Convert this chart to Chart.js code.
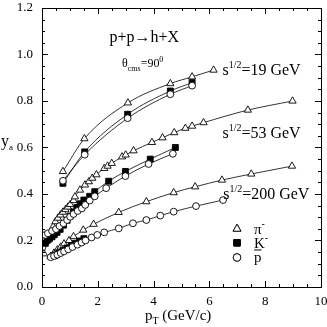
<!DOCTYPE html>
<html>
<head>
<meta charset="utf-8">
<script src="https://cdn.jsdelivr.net/npm/chart.js@4.4.1/dist/chart.umd.min.js"></script>
<style>
html, body { margin: 0; padding: 0; background: #fff; }
</style>
</head>
<body>
<canvas id="myChart" width="327" height="327"></canvas>
<script>
// sqrt(s) = 19 GeV
const pi19X = [0.75, 1.52, 3.08, 4.60, 5.38, 6.15];
const pi19Y = [0.497, 0.638, 0.792, 0.875, 0.904, 0.933];
const k19X = [0.75, 1.53, 3.07, 4.60, 5.38];
const k19Y = [0.446, 0.581, 0.743, 0.843, 0.879];
const pbar19X = [0.75, 1.53, 3.07, 4.60, 5.38];
const pbar19Y = [0.457, 0.569, 0.726, 0.829, 0.866];

// sqrt(s) = 53 GeV
const pi53X = [0.07, 0.20, 0.30, 0.40, 0.48, 0.57, 0.66, 0.75, 0.84, 0.93, 1.01, 1.13, 1.18, 1.36, 1.54, 1.68, 1.80, 1.95, 2.23, 2.35, 2.50, 2.87, 3.00, 3.28, 3.94, 4.32, 4.74, 5.14, 5.38, 5.79, 7.38, 8.98];
const pi53Y = [0.143, 0.200, 0.232, 0.260, 0.281, 0.296, 0.310, 0.322, 0.333, 0.344, 0.355, 0.372, 0.388, 0.417, 0.439, 0.453, 0.468, 0.483, 0.510, 0.520, 0.532, 0.560, 0.568, 0.586, 0.622, 0.642, 0.664, 0.683, 0.692, 0.707, 0.761, 0.800];
const k53X = [0.12, 0.18, 0.27, 0.36, 0.44, 0.54, 0.65, 0.77, 0.90, 1.01, 1.13, 1.25, 1.37, 1.50, 1.71, 1.89, 2.39, 2.99, 3.88, 4.78];
const k53Y = [0.188, 0.200, 0.209, 0.216, 0.225, 0.235, 0.248, 0.266, 0.287, 0.305, 0.323, 0.342, 0.358, 0.374, 0.390, 0.410, 0.455, 0.497, 0.550, 0.600];
const pbar53X = [0.12, 0.21, 0.36, 0.50, 0.63, 0.77, 0.90, 1.01, 1.13, 1.28, 1.43, 1.55, 1.71, 1.89, 2.30, 2.99, 3.82, 4.69];
const pbar53Y = [0.224, 0.231, 0.241, 0.249, 0.262, 0.274, 0.288, 0.302, 0.314, 0.327, 0.338, 0.353, 0.372, 0.390, 0.425, 0.477, 0.529, 0.573];

// sqrt(s) = 200 GeV
const pi200X = [0.31, 0.43, 0.55, 0.67, 0.79, 0.97, 1.13, 1.48, 1.85, 2.75, 3.74, 4.72, 5.49, 6.45, 7.50, 8.96];
const pi200Y = [0.132, 0.146, 0.160, 0.172, 0.186, 0.200, 0.217, 0.245, 0.270, 0.321, 0.367, 0.406, 0.431, 0.460, 0.486, 0.520];
const k200X = [0.45, 0.60, 0.75, 0.90, 1.05, 1.20, 1.35, 1.50];
const k200Y = [0.135, 0.147, 0.158, 0.168, 0.178, 0.188, 0.198, 0.208];
const pbar200X = [0.31, 0.43, 0.55, 0.67, 0.79, 0.94, 1.09, 1.27, 1.42, 1.56, 1.78, 1.98, 2.23, 2.75, 3.26, 3.74, 4.24, 4.72, 5.52, 6.49];
const pbar200Y = [0.128, 0.133, 0.139, 0.146, 0.153, 0.162, 0.172, 0.182, 0.191, 0.200, 0.213, 0.224, 0.235, 0.252, 0.274, 0.288, 0.307, 0.324, 0.348, 0.374];

const xTicks = [0, 2, 4, 6, 8, 10];
const yTicks = [0.0, 0.2, 0.4, 0.6, 0.8, 1.0, 1.2];

// pick a Times-like face that is really installed
function pickSerif() {
    const c = document.createElement('canvas').getContext('2d');
    const probe = 'mmmmmmmmlliiWW0123456789';
    const names = ['Liberation Serif', 'Times New Roman', 'Tinos', 'Nimbus Roman', 'Times'];
    for (const n of names) {
        for (const base of ['monospace', 'sans-serif']) {
            c.font = '40px ' + base;
            const w0 = c.measureText(probe).width;
            c.font = '40px "' + n + '", ' + base;
            if (Math.abs(c.measureText(probe).width - w0) > 0.5) return '"' + n + '", serif';
        }
    }
    return 'serif';
}
const serif = pickSerif();
// pull text widths toward Times metrics whichever face was found
const fs = (function () {
    const c = document.createElement('canvas').getContext('2d');
    c.font = '16px ' + serif;
    const w = c.measureText('=19 GeV').width;
    return Math.min(1, Math.pow(59.1 / w, 0.85));
})();

function pts(xs, ys) {
    return xs.map((x, i) => ({ x: x, y: ys[i] }));
}

const styles = {
    pbar: { pointStyle: 'circle', pointRadius: 3.4, pointBackgroundColor: '#fff' },
    k: { pointStyle: 'rect', pointRadius: 4.2, pointBackgroundColor: '#000' },
    pi: { pointStyle: 'triangle', pointRadius: 4.2, pointBackgroundColor: '#fff' }
};

function series(xs, ys, kind) {
    const s = styles[kind];
    return {
        data: pts(xs, ys),
        showLine: true,
        borderColor: '#000',
        borderWidth: 0.8,
        cubicInterpolationMode: 'monotone',
        pointStyle: s.pointStyle,
        pointRadius: s.pointRadius,
        pointBackgroundColor: s.pointBackgroundColor,
        pointBorderColor: '#000',
        pointBorderWidth: 0.9
    };
}

// first datasets are drawn on top
const datasets = [
    series(pbar19X, pbar19Y, 'pbar'),
    series(pbar53X, pbar53Y, 'pbar'),
    series(pbar200X, pbar200Y, 'pbar'),
    series(k19X, k19Y, 'k'),
    series(k53X, k53Y, 'k'),
    series(k200X, k200Y, 'k'),
    series(pi19X, pi19Y, 'pi'),
    series(pi53X, pi53Y, 'pi'),
    series(pi200X, pi200Y, 'pi')
];

// text made of pieces: [text, size, dy]
function drawRich(ctx, parts, x, y) {
    let cx = x;
    parts.forEach(p => {
        ctx.font = (p[1] * fs).toFixed(2) + 'px ' + serif;
        ctx.fillText(p[0], cx, y + (p[2] || 0));
        cx += ctx.measureText(p[0]).width;
    });
    return cx;
}

const decor = {
    id: 'decor',
    afterDraw(chart) {
        const ctx = chart.ctx;
        const a = chart.chartArea;
        const xs = chart.scales.x, ys = chart.scales.y;
        ctx.save();
        ctx.strokeStyle = '#000';
        ctx.fillStyle = '#000';
        ctx.lineWidth = 1;
        ctx.strokeRect(Math.round(a.left) + 0.5, Math.round(a.top) + 0.5,
            Math.round(a.right - a.left), Math.round(a.bottom - a.top));

        // inward ticks on all four sides
        ctx.beginPath();
        for (let i = 0; i <= 20; i++) {
            const px = Math.round(xs.getPixelForValue(i * 0.5)) + 0.5;
            const len = (i % 4 === 0) ? 6 : 3;
            ctx.moveTo(px, a.bottom); ctx.lineTo(px, a.bottom - len);
            ctx.moveTo(px, a.top); ctx.lineTo(px, a.top + len);
        }
        for (let i = 0; i <= 24; i++) {
            const py = Math.round(ys.getPixelForValue(i * 0.05)) + 0.5;
            const len = (i % 4 === 0) ? 6 : 3;
            ctx.moveTo(a.left, py); ctx.lineTo(a.left + len, py);
            ctx.moveTo(a.right, py); ctx.lineTo(a.right - len, py);
        }
        ctx.stroke();

        // tick labels
        ctx.font = (13 * fs).toFixed(2) + 'px ' + serif;
        ctx.textBaseline = 'middle';
        ctx.textAlign = 'center';
        xTicks.forEach(v => ctx.fillText(String(v), xs.getPixelForValue(v), a.bottom + 15));
        ctx.textAlign = 'right';
        yTicks.forEach(v => ctx.fillText(v.toFixed(1), a.left - 9, ys.getPixelForValue(v)));

        ctx.textBaseline = 'alphabetic';
        ctx.textAlign = 'left';
        const X = v => xs.getPixelForValue(v);
        const Y = v => ys.getPixelForValue(v);

        drawRich(ctx, [['p+p\u2192h+X', 16]], X(2.42), Y(1.075) + 5);
        drawRich(ctx, [['\u03b8', 12], ['cms', 8, 4], ['=90', 12], ['0', 8, -5]], X(2.87), Y(0.963) + 4);

        const sLabel = (txt, x, y) => drawRich(ctx, [['s', 16], ['1/2', 10, -7], [txt, 16]], X(x), Y(y) + 5);
        sLabel('=19 GeV', 6.47, 0.933);
        sLabel('=53 GeV', 6.47, 0.661);
        sLabel('=200 GeV', 6.5, 0.402);

        // legend
        const lx = X(6.99);
        const rows = [[0.250, 'pi', '\u03c0', '-'], [0.190, 'k', 'K', '-'], [0.127, 'pbar', 'p', '']];
        rows.forEach(r => {
            const s = styles[r[1]];
            const py = Y(r[0]);
            ctx.fillStyle = s.pointBackgroundColor;
            ctx.lineWidth = 0.9;
            Chart.helpers.drawPoint(ctx, { pointStyle: s.pointStyle, radius: s.pointRadius + 0.4, borderWidth: 0.9 }, lx, py);
            ctx.fill();
            ctx.stroke();
            ctx.fillStyle = '#000';
            const tx = lx + 17;
            const end = drawRich(ctx, [[r[2], 15], [r[3], 10, -7]], tx, py + 5);
            if (r[1] === 'pbar') {
                ctx.beginPath();
                ctx.lineWidth = 1;
                ctx.moveTo(tx, py - 7.5); ctx.lineTo(end, py - 7.5);
                ctx.stroke();
            }
        });

        // axis titles
        ctx.fillStyle = '#000';
        drawRich(ctx, [['y', 16], ['a', 9, 4]], 1, 146);
        drawRich(ctx, [['p', 15], ['T', 10, 4], [' (GeV/c)', 15]], 145, 320);
        ctx.restore();
    }
};

const ctx = document.getElementById('myChart').getContext('2d');
new Chart(ctx, {
    type: 'scatter',
    data: { datasets: datasets },
    options: {
        responsive: false,
        animation: false,
        layout: { padding: { top: 8, right: 6, left: 0, bottom: 0 } },
        plugins: { legend: { display: false }, tooltip: { enabled: false } },
        scales: {
            x: {
                type: 'linear', min: 0, max: 10,
                afterFit: s => { s.height = 40; },
                grid: { display: false, drawTicks: false },
                border: { display: false },
                ticks: { display: false }
            },
            y: {
                type: 'linear', min: 0, max: 1.2,
                afterFit: s => { s.width = 42; },
                grid: { display: false, drawTicks: false },
                border: { display: false },
                ticks: { display: false }
            }
        }
    },
    plugins: [decor]
});
</script>
</body>
</html>
